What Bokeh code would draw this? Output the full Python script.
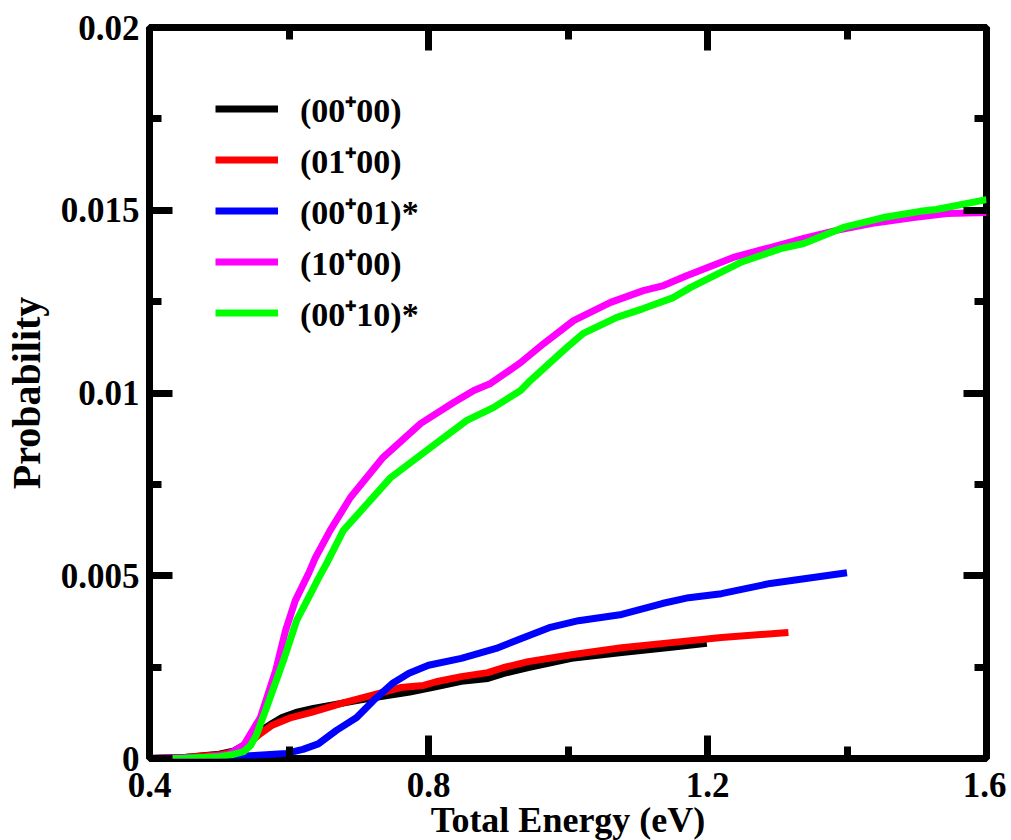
from bokeh.plotting import figure
from bokeh.models import (FixedTicker, Legend, LegendItem, Range1d, LinearAxis,
                          CustomJSTickFormatter)
from bokeh.embed import file_html
from bokeh.resources import INLINE

# ---------------- data ----------------
energy_0000 = [0.40, 0.45, 0.50, 0.52, 0.535, 0.545, 0.559, 0.575, 0.59, 0.61, 0.635,
               0.667, 0.701, 0.734, 0.773, 0.81, 0.847, 0.885, 0.908, 0.943, 1.005,
               1.077, 1.148, 1.199]
prob_0000 = [0, 0.00003, 0.00012, 0.0002, 0.00036, 0.0005, 0.00075, 0.00095, 0.00112,
             0.00126, 0.00137, 0.00148, 0.0016, 0.0017, 0.00182, 0.00196, 0.00211,
             0.00219, 0.00233, 0.00249, 0.00274, 0.0029, 0.00304, 0.00315]

energy_0100 = [0.40, 0.45, 0.50, 0.52, 0.535, 0.559, 0.575, 0.603, 0.632, 0.679, 0.717,
               0.76, 0.793, 0.811, 0.847, 0.885, 0.908, 0.943, 1.005, 1.077, 1.148,
               1.22, 1.316]
prob_0100 = [0, 0.00003, 0.0001, 0.00018, 0.0003, 0.00068, 0.0009, 0.00112, 0.00126,
             0.00153, 0.00172, 0.00194, 0.002, 0.0021, 0.00224, 0.00235, 0.00249,
             0.00265, 0.00284, 0.00303, 0.00317, 0.00331, 0.00345]

energy_0001 = [0.40, 0.50, 0.55, 0.596, 0.62, 0.642, 0.668, 0.697, 0.724, 0.748, 0.772,
               0.80, 0.847, 0.897, 0.935, 0.973, 1.015, 1.077, 1.135, 1.173, 1.22,
               1.29, 1.40]
prob_0001 = [0, 0.00003, 0.00008, 0.00014, 0.00025, 0.0004, 0.00077, 0.00112, 0.00164,
             0.00205, 0.00233, 0.00255, 0.00274, 0.00301, 0.0033, 0.00358, 0.00377,
             0.00394, 0.00424, 0.0044, 0.00451, 0.00479, 0.00508]

energy_1000 = [0.400, 0.477, 0.513, 0.535, 0.559, 0.581, 0.595, 0.609, 0.628, 0.638,
               0.659, 0.688, 0.735, 0.789, 0.836, 0.865, 0.889, 0.932, 0.965, 1.008,
               1.061, 1.108, 1.137, 1.170, 1.237, 1.290, 1.338, 1.385, 1.442, 1.495,
               1.543, 1.600]
prob_1000 = [0, 0.00003, 0.00011, 0.00036, 0.00112, 0.00241, 0.0035, 0.00432, 0.00506,
             0.0055, 0.00624, 0.00714, 0.00824, 0.00917, 0.00974, 0.01007, 0.01026,
             0.01083, 0.01135, 0.01198, 0.01248, 0.0128, 0.01294, 0.01321, 0.01371,
             0.01398, 0.01423, 0.01445, 0.01466, 0.0148, 0.01491, 0.01494]

energy_0010 = [0.400, 0.450, 0.500, 0.520, 0.535, 0.545, 0.553, 0.568, 0.592, 0.611,
               0.631, 0.642, 0.654, 0.678, 0.746, 0.803, 0.855, 0.893, 0.932, 0.946,
               0.998, 1.022, 1.070, 1.108, 1.151, 1.176, 1.247, 1.305, 1.338, 1.395,
               1.452, 1.505, 1.528, 1.600]
prob_0010 = [0, 0.00001, 0.00005, 0.00011, 0.00019, 0.00036, 0.00063, 0.0014, 0.00268,
             0.00378, 0.00451, 0.00492, 0.00534, 0.00624, 0.00769, 0.00851, 0.00925,
             0.0096, 0.01007, 0.01034, 0.01124, 0.01163, 0.01207, 0.01231, 0.01261,
             0.01289, 0.01357, 0.01395, 0.01409, 0.01453, 0.0148, 0.01497, 0.01502,
             0.01529]

series_labels = ["(00\u207a00)", "(01\u207a00)", "(00\u207a01)*", "(10\u207a00)", "(00\u207a10)*"]
series_colors = ["#000000", "#ff0000", "#0000ff", "#ff00ff", "#00ff00"]

x_ticks = [0.4, 0.8, 1.2, 1.6]
x_tick_labels = ["0.4", "0.8", "1.2", "1.6"]
x_minor_ticks = [0.6, 1.0, 1.4]
y_ticks = [0.0, 0.005, 0.01, 0.015, 0.02]
y_tick_labels = ["0", "0.005", "0.01", "0.015", "0.02"]
y_minor_ticks = [0.0025, 0.0075, 0.0125, 0.0175]

x_title = "Total Energy (eV)"
y_title = "Probability"

FONT = "Liberation Serif"

# ---------------- figure ----------------
p = figure(frame_width=837, frame_height=731,
           x_range=Range1d(0.4, 1.6), y_range=Range1d(0.0, 0.02),
           output_backend="svg", toolbar_location=None,
           min_border_left=144, min_border_right=20,
           min_border_top=27, min_border_bottom=74,
           background_fill_color="white", border_fill_color="white")
p.xgrid.visible = False
p.ygrid.visible = False
p.outline_line_color = "black"
p.outline_line_width = 7

renderers = []
for xs, ys, col in zip([energy_0000, energy_0100, energy_0001, energy_1000, energy_0010],
                       [prob_0000, prob_0100, prob_0001, prob_1000, prob_0010],
                       series_colors):
    r = p.line(xs, ys, line_color=col, line_width=7, line_join="round", line_cap="butt")
    renderers.append(r)


def fmt(vals, labs):
    return CustomJSTickFormatter(args=dict(vals=vals, labs=labs), code="""
        const i = vals.findIndex(v => Math.abs(v - tick) < 1e-9);
        return i >= 0 ? labs[i] : '';
    """)


def style_axis(ax, ticks, minor, labels, show_labels):
    ax.ticker = FixedTicker(ticks=ticks, minor_ticks=minor)
    ax.axis_line_color = None
    ax.major_tick_in = 23
    ax.major_tick_out = 0
    ax.minor_tick_in = 12
    ax.minor_tick_out = 0
    ax.major_tick_line_width = 7
    ax.minor_tick_line_width = 7
    ax.major_tick_line_color = "black"
    ax.minor_tick_line_color = "black"
    ax.major_tick_line_cap = "butt"
    ax.minor_tick_line_cap = "butt"
    if show_labels:
        ax.formatter = fmt(ticks, labels)
        ax.major_label_text_font = FONT
        ax.major_label_text_font_style = "bold"
        ax.major_label_text_font_size = "35px"
        ax.major_label_text_color = "black"
        ax.axis_label_text_font = FONT
        ax.axis_label_text_font_style = "bold"
        ax.axis_label_text_color = "black"
    else:
        ax.major_label_text_font_size = "0px"
        ax.formatter = fmt(ticks, ["" for _ in ticks])


xa = p.xaxis[0]
ya = p.yaxis[0]
style_axis(xa, x_ticks, x_minor_ticks, x_tick_labels, True)
style_axis(ya, y_ticks, y_minor_ticks, y_tick_labels, True)
xa.axis_label = x_title
ya.axis_label = y_title
xa.axis_label_text_font_size = "36px"
ya.axis_label_text_font_size = "40px"
xa.major_label_standoff = 14
xa.axis_label_standoff = 0
ya.major_label_standoff = 10
ya.axis_label_standoff = 9

top = LinearAxis()
right = LinearAxis()
style_axis(top, x_ticks, x_minor_ticks, x_tick_labels, False)
style_axis(right, y_ticks, y_minor_ticks, y_tick_labels, False)
p.add_layout(top, "above")
p.add_layout(right, "right")

legend = Legend(items=[LegendItem(label=lab, renderers=[r])
                       for lab, r in zip(series_labels, renderers)],
                location=(66, 420))
legend.glyph_width = 63
legend.glyph_height = 51
legend.label_height = 51
legend.label_standoff = 22
legend.spacing = 0
legend.padding = 0
legend.margin = 0
legend.border_line_color = None
legend.background_fill_alpha = 0
legend.label_text_font = FONT
legend.label_text_font_style = "bold"
legend.label_text_font_size = "34px"
legend.label_text_color = "black"
p.add_layout(legend, "center")

open("out.html", "w").write(file_html(p, INLINE))
